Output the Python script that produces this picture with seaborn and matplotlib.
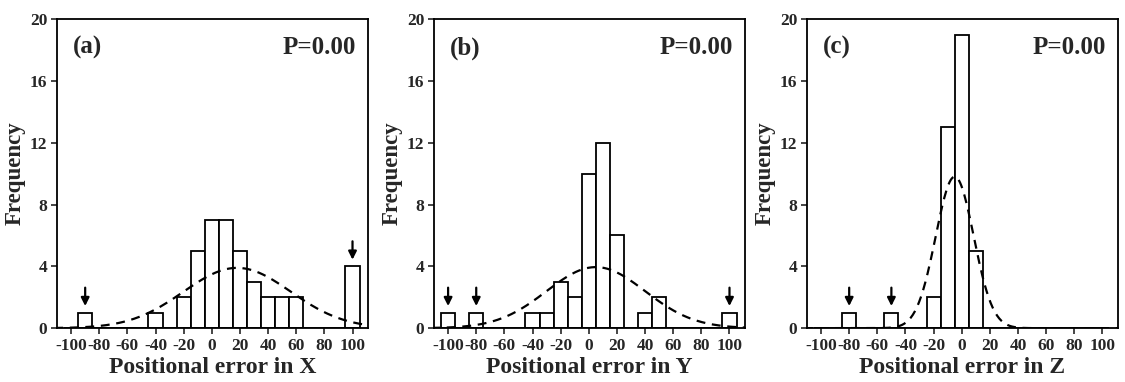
import numpy as np
import pandas as pd
import matplotlib
matplotlib.use("Agg")
import matplotlib.pyplot as plt
import seaborn as sns

# === Data ===
# histogram bins (centre of each 10-unit bin) and frequency
x_centers = [-90, -40, -20, -10, 0, 10, 20, 30, 40, 50, 60, 100]
x_counts = [1, 1, 2, 5, 7, 7, 5, 3, 2, 2, 2, 4]
y_centers = [-100, -80, -40, -30, -20, -10, 0, 10, 20, 40, 50, 100]
y_counts = [1, 1, 1, 1, 3, 2, 10, 12, 6, 1, 2, 1]
z_centers = [-80, -50, -20, -10, 0, 10]
z_counts = [1, 1, 2, 13, 19, 5]

# fitted normal curves (mean, sd, peak height)
x_fit = (18, 38, 3.9)
y_fit = (5, 35, 3.95)
z_fit = (-5, 13.5, 9.8)

# bins marked with an arrow (outliers)
x_arrows = [-90, 100]
y_arrows = [-100, -80, 100]
z_arrows = [-80, -50]

panel_tags = ["(a)", "(b)", "(c)"]
axis_names = ["X", "Y", "Z"]
p_text = "P=0.00"
x_ticks = list(range(-100, 101, 20))
y_ticks = [0, 4, 8, 12, 16, 20]

# === Style ===
sns.set_style("ticks")
plt.rcParams["font.family"] = ["Liberation Serif", "DejaVu Serif"]
plt.rcParams["font.weight"] = "bold"
plt.rcParams["axes.linewidth"] = 1.3
plt.rcParams["axes.unicode_minus"] = False

fig = plt.figure(figsize=(11.25, 3.82), dpi=100)
lefts = [0.0507, 0.3858, 0.7173]
axes = [fig.add_axes([l, 0.141, 0.2764, 0.809]) for l in lefts]

panels = [
    (x_centers, x_counts, x_fit, x_arrows),
    (y_centers, y_counts, y_fit, y_arrows),
    (z_centers, z_counts, z_fit, z_arrows),
]

for i, (ax, (centers, counts, fit, arrows)) in enumerate(zip(axes, panels)):
    df = pd.DataFrame({"err": centers, "n": counts})
    sns.histplot(data=df, x="err", weights="n", binwidth=10,
                 binrange=(-105, 105), ax=ax,
                 color="white", edgecolor="black", linewidth=1.3, alpha=1)

    mu, sd, peak = fit
    xs = np.linspace(-112, 112, 300)
    curve = pd.DataFrame({"x": xs, "y": peak * np.exp(-0.5 * ((xs - mu) / sd) ** 2)})
    sns.lineplot(data=curve, x="x", y="y", ax=ax, color="black",
                 linewidth=1.6, linestyle=(0, (4, 3)))

    heights = dict(zip(centers, counts))
    for a in arrows:
        h = heights[a]
        ax.annotate("", xy=(a, h + 0.25), xytext=(a, h + 1.8),
                    arrowprops=dict(arrowstyle="-|>", color="black", lw=1.6,
                                    mutation_scale=12))

    ax.set_xlim(-110, 111)
    ax.set_ylim(0, 20)
    ax.set_xticks(x_ticks)
    ax.set_yticks(y_ticks)
    ax.tick_params(axis="both", direction="out", length=4, width=1.2,
                   labelsize=12.5, pad=3)
    for lab in ax.get_xticklabels() + ax.get_yticklabels():
        lab.set_fontweight("bold")
    for s in ax.spines.values():
        s.set_visible(True)
        s.set_color("black")

    ax.set_xlabel(f"Positional error in {axis_names[i]}", fontsize=17,
                  fontweight="bold", labelpad=2)
    ax.set_ylabel("Frequency", fontsize=16.5, fontweight="bold", labelpad=3)
    ax.text(0.05, 0.945, panel_tags[i], transform=ax.transAxes, fontsize=18,
            fontweight="bold", ha="left", va="top")
    ax.text(0.96, 0.945, p_text, transform=ax.transAxes, fontsize=18,
            fontweight="bold", ha="right", va="top")

fig.savefig("out.png", dpi=100)
